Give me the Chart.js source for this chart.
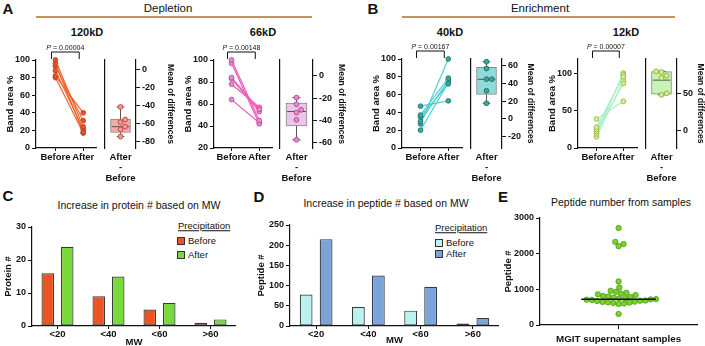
<!DOCTYPE html>
<html lang="en">
<head>
<meta charset="UTF-8" />
<title>Precipitation: band area and peptide counts</title>
<script src="https://cdn.jsdelivr.net/npm/chart.js"></script>
<style>
  body { margin: 0; width: 705px; height: 346px; position: relative; overflow: hidden; background: #fff;
         font-family: 'Liberation Sans', Arial, sans-serif; color: #111; }
  canvas { position: absolute; }
  .t  { position: absolute; transform: translate(-50%, -50%); white-space: nowrap; line-height: 1; }
  .tl { position: absolute; transform: translateY(-50%); white-space: nowrap; line-height: 1; }
  .letter { font-weight: bold; font-size: 15px; }
  .head { font-size: 11.5px; }
  .sub { font-weight: bold; font-size: 11px; }
  .ttl { font-size: 10.5px; }
  .leg { font-size: 9.5px; }
  .rule { position: absolute; height: 2px; background: #C49455; }
  .sw { position: absolute; width: 8px; height: 8px; box-sizing: border-box; border: 1px solid #333; }
</style>
</head>
<body>
  <div class="t letter" style="left:8px;top:8px">A</div>
  <div class="t head" style="left:168px;top:9px">Depletion</div>
  <div class="rule" style="left:36px;top:16px;width:276px"></div>
  <div class="t letter" style="left:373px;top:8px">B</div>
  <div class="t head" style="left:540px;top:9px">Enrichment</div>
  <div class="rule" style="left:402px;top:16px;width:273px"></div>

  <div class="t sub" style="left:87px;top:32px">120kD</div>
  <div class="t sub" style="left:263px;top:32px">66kD</div>
  <div class="t sub" style="left:450px;top:32px">40kD</div>
  <div class="t sub" style="left:626px;top:32px">12kD</div>

  <div class="t letter" style="left:8px;top:195px">C</div>
  <div class="t ttl" style="left:139px;top:205px">Increase in protein # based on MW</div>
  <div class="t letter" style="left:259px;top:196px">D</div>
  <div class="t ttl" style="left:386px;top:203px">Increase in peptide # based on MW</div>
  <div class="t letter" style="left:503px;top:196px">E</div>
  <div class="t ttl" style="left:621px;top:202px">Peptide number from samples</div>

  <div class="tl leg" style="left:178px;top:226px;text-decoration:underline">Precipitation</div>
  <div class="sw" style="left:177px;top:237px;background:#EE5421"></div>
  <div class="tl leg" style="left:188px;top:241px">Before</div>
  <div class="sw" style="left:177px;top:251px;background:#78D93A"></div>
  <div class="tl leg" style="left:188px;top:255px">After</div>

  <div class="tl leg" style="left:435px;top:228px;text-decoration:underline">Precipitation</div>
  <div class="sw" style="left:435px;top:239px;background:#B9F2EE"></div>
  <div class="tl leg" style="left:446px;top:243px">Before</div>
  <div class="sw" style="left:435px;top:250px;background:#7BA4DA"></div>
  <div class="tl leg" style="left:446px;top:254px">After</div>

<script>
const FONT = "'Liberation Sans', Arial, sans-serif";
const INK = '#111';

// ---- A / B : band area % before and after precipitation ----
const pairLabels = ['Before', 'After'];
const diffLabel = ['After', '-', 'Before'];
const pValues = ['0.00004', '0.00148', '0.00167', '0.00007'];

const before120 = [100, 96, 93, 88, 82, 80];
const after120  = [24, 18, 31, 21, 40, 17];
const diff120   = [-41, -55, -58, -63, -66, -74];
const box120    = [-74, -69.5, -63, -54.5, -41];   // min, q1, median, q3, max

const before66 = [100, 97, 84, 83, 78, 64];
const after66  = [45, 42, 55, 53, 57, 43];
const diff66   = [-19.5, -25.5, -30.5, -33, -39.5, -57.5];
const box66    = [-57.5, -45, -32, -24.5, -19.5];

const before40 = [47, 37, 35, 30, 27, 20];
const after40  = [53, 78.5, 72, 76, 100, 73.5];
const diff40   = [64, 56.5, 44.5, 44.5, 31.5, 17.5];
const box40    = [17.5, 27.5, 44.3, 57.8, 64];

const before12 = [39, 28, 25, 22, 19, 15];
const after12  = [63, 96, 99, 87, 101, 91];
const diff12   = [80, 79, 74, 71, 50, 48];
const box12    = [48, 49, 68, 79.5, 80];

// ---- C / D : counts per MW bin ----
const mwCats = ['<20', '<40', '<60', '>60'];
const seriesNames = ['Before', 'After'];
const proteinBefore = [16, 9, 5, 1];
const proteinAfter  = [24, 15, 7, 2];
const peptideBefore = [78, 47, 38, 6];
const peptideAfter  = [215, 125, 97, 20];

// ---- E : peptides per MGIT sample ----
const peptideCounts = [2720, 2330, 2270, 2210, 1220, 1050, 960, 930, 905, 880, 860,
  840, 812, 800, 781, 770, 750, 741, 726, 718, 711, 703,
  688, 680, 672, 655, 646, 637, 628, 615, 603, 590, 310];
const medianPeptide = 722;

Chart.defaults.font.family = FONT;
Chart.defaults.color = INK;

const bold = s => ({ family: FONT, size: s, weight: 'bold', lineHeight: 1.1 });
const axisBorder = { display: true, color: INK, width: 1.2 };
const tickGrid = { display: true, drawOnChartArea: false, drawTicks: true, tickLength: 4, color: INK, tickColor: INK, lineWidth: 1 };
const noPlugins = { legend: { display: false }, tooltip: { enabled: false } };
const plain = v => String(v);

function addCanvas(left, top, w, h) {
  const c = document.createElement('canvas');
  c.width = w; c.height = h;
  c.style.left = left + 'px'; c.style.top = top + 'px';
  c.style.width = w + 'px'; c.style.height = h + 'px';
  document.body.appendChild(c);
  return c;
}

// ticks on multiples of step inside an axis whose ends are not round
const stepTicks = step => s => {
  const t = [];
  for (let v = Math.ceil(s.min / step) * step; v <= s.max + 1e-9; v += step) t.push({ value: Math.round(v) });
  s.ticks = t;
};

// spread points sideways so they do not overlap (pixel space of the chart's own scales)
function swarm(chart, dsIndex, values, r) {
  const xs = chart.scales.x, ys = chart.scales.y;
  const cx = xs.getPixelForValue(0);
  const order = values.map((v, i) => i).sort((a, b) => values[a] - values[b]);
  const placed = [], out = [];
  order.forEach(i => {
    const py = ys.getPixelForValue(values[i]);
    const cands = [0];
    placed.forEach(p => {
      const dy = py - p.y;
      if (Math.abs(dy) < 2 * r) {
        const dx = Math.sqrt(4 * r * r - dy * dy);
        cands.push(p.x + dx, p.x - dx);
      }
    });
    cands.sort((a, b) => Math.abs(a) - Math.abs(b));
    const best = cands.find(c => placed.every(p => (p.x - c) ** 2 + (p.y - py) ** 2 >= 4 * r * r - 0.01));
    placed.push({ x: best, y: py });
    out[i] = { x: xs.getValueForPixel(cx + best), y: values[i] };
  });
  chart.data.datasets[dsIndex].data = out;
  chart.update('none');
}

// bracket + P value above the paired plot
const bracketPlugin = {
  id: 'pbracket',
  afterDraw(chart, args, o) {
    const { ctx, chartArea, scales: { x } } = chart;
    const x1 = x.getPixelForValue(0) - 4, x2 = x.getPixelForValue(1) - 4;
    const yb = chartArea.top - 8;
    ctx.save();
    ctx.strokeStyle = INK; ctx.lineWidth = 1;
    ctx.beginPath();
    ctx.moveTo(x1, yb + 7); ctx.lineTo(x1, yb); ctx.lineTo(x2, yb); ctx.lineTo(x2, yb + 7);
    ctx.stroke();
    ctx.fillStyle = INK; ctx.textBaseline = 'middle';
    ctx.font = 'italic 7px ' + FONT;
    const wP = ctx.measureText('P').width;
    const rest = ' = ' + o.text;
    ctx.font = '7px ' + FONT;
    const wR = ctx.measureText(rest).width;
    const sx = (x1 + x2) / 2 - (wP + wR) / 2;
    ctx.font = 'italic 7px ' + FONT;
    ctx.fillText('P', sx, yb - 4);
    ctx.font = '7px ' + FONT;
    ctx.fillText(rest, sx + wP, yb - 4);
    ctx.restore();
  }
};

const panelData = [
  [before120, after120, diff120, box120],
  [before66, after66, diff66, box66],
  [before40, after40, diff40, box40],
  [before12, after12, diff12, box12]
];

const panelLayout = [
  { axisX: 36, sepX: 101, rightX: 136, beforeX: 57, afterX: 87, top: 60, y: [0, 100, 20], d: [-86.7, 11.1, 20], gap: 34,
    line: '#F2612D', dot: '#E8532A', edge: '#A83A1E', boxFill: '#F5A9A6', boxDot: '#F29A9A', boxEdge: '#C8403A' },
  { axisX: 214, sepX: 277, rightX: 313, beforeX: 233, afterX: 263, top: 60, y: [20, 100, 20], d: [-64.9, 14.4, 20], gap: 28,
    line: '#F25AB8', dot: '#E58CCB', edge: '#B0488E', boxFill: '#EBC6EA', boxDot: '#E58CCB', boxEdge: '#B0488E' },
  { axisX: 402, sepX: 467, rightX: 502, beforeX: 422, afterX: 452, top: 59, y: [0, 100, 20], d: [-32.6, 67.1, 20], gap: 28,
    line: '#4ECFCF', dot: '#3AA6A0', edge: '#1E6E6A', boxFill: '#90DAD8', boxDot: '#3AA6A0', boxEdge: '#1E6E6A' },
  { axisX: 578, sepX: 642, rightX: 677, beforeX: 598, afterX: 627, top: 59, y: [0, 120, 50], d: [-24.5, 96.8, 50], gap: 23,
    line: '#A9F0C8', dot: '#D6F08A', edge: '#8AB03A', boxFill: '#C8F2B6', boxDot: '#D6F08A', boxEdge: '#8AB03A' }
];

const BOTTOM = 148, CTOP = 40, BOX_HALF = 0.57;

panelLayout.forEach((p, k) => {
  const [before, after, diffs, box] = panelData[k];
  const span = p.afterX - p.beforeX;

  // paired before/after plot
  const pairSets = before.map((b, i) => ({
    type: 'scatter', showLine: true, clip: false,
    data: [{ x: 0, y: b }, { x: 1, y: after[i] }],
    borderColor: p.line, borderWidth: 1.2,
    pointRadius: 2.4, pointBackgroundColor: p.dot, pointBorderColor: p.edge, pointBorderWidth: 0.8
  }));
  new Chart(addCanvas(p.axisX - 36, CTOP, 36 + p.sepX - p.axisX, BOTTOM - CTOP + 22), {
    type: 'scatter',
    data: { datasets: pairSets },
    options: {
      responsive: false, animation: false,
      layout: { padding: { top: p.top - CTOP, right: 0, left: 0, bottom: 0 } },
      plugins: { ...noPlugins, pbracket: { text: pValues[k] } },
      scales: {
        x: {
          type: 'linear', min: -(p.beforeX - p.axisX) / span, max: (p.sepX - p.beforeX) / span,
          afterBuildTicks: s => { s.ticks = [{ value: 0 }, { value: 1 }]; },
          afterFit: s => { s.height = 22; },
          ticks: { callback: v => pairLabels[v], font: bold(9.5), color: INK, padding: 1, autoSkip: false, maxRotation: 0 },
          grid: { ...tickGrid, tickLength: 3 }, border: axisBorder
        },
        y: {
          min: p.y[0], max: p.y[1],
          afterBuildTicks: stepTicks(p.y[2]),
          ticks: { font: bold(9), color: INK, padding: 2, callback: plain },
          afterFit: s => { s.width = 36; },
          title: { display: true, text: 'Band area %', font: bold(9.5), color: INK, padding: { top: 5.3, bottom: 0 } },
          grid: tickGrid, border: axisBorder
        }
      }
    },
    plugins: [bracketPlugin]
  });

  // estimation (mean of differences) plot
  const [mn, q1, med, q3, mx] = box;
  const seg = (pts, w) => ({ type: 'scatter', yAxisID: 'y', showLine: true, data: pts, borderColor: '#555', borderWidth: w, pointRadius: 0, clip: false });
  const areaW = p.rightX - p.sepX;
  const boxChart = new Chart(addCanvas(p.sepX - 2, CTOP, 2 + areaW + 42, BOTTOM - CTOP + 38), {
    type: 'scatter',
    data: {
      datasets: [
        { type: 'scatter', yAxisID: 'y', data: diffs.map(v => ({ x: 0, y: v })), clip: false,
          pointRadius: 2.4, pointBackgroundColor: p.boxDot, pointBorderColor: p.boxEdge, pointBorderWidth: 0.9 },
        seg([{ x: -BOX_HALF, y: med }, { x: BOX_HALF, y: med }], 1),
        seg([{ x: 0, y: mn }, { x: 0, y: q1 }], 1),
        seg([{ x: 0, y: q3 }, { x: 0, y: mx }], 1),
        seg([{ x: -0.25, y: mn }, { x: 0.25, y: mn }], 1),
        seg([{ x: -0.25, y: mx }, { x: 0.25, y: mx }], 1),
        { type: 'bar', yAxisID: 'y', data: [{ x: 0, y: [q1, q3] }], barThickness: Math.round(BOX_HALF * areaW),
          backgroundColor: p.boxFill, borderColor: '#888', borderWidth: 1, borderSkipped: false }
      ]
    },
    options: {
      responsive: false, animation: false,
      layout: { padding: { top: p.top - CTOP, right: 0, left: 2, bottom: 0 } },
      plugins: noPlugins,
      scales: {
        y: {
          type: 'linear', position: 'right', min: p.d[0], max: p.d[1],
          afterBuildTicks: stepTicks(p.d[2]),
          ticks: { font: bold(9), color: INK, padding: 2, callback: plain },
          afterFit: s => { s.width = 42; },
          title: { display: true, text: 'Mean of differences', font: bold(8.5), color: INK,
                   padding: { top: 42 - p.gap - 5.1, bottom: 0 } },
          grid: tickGrid, border: axisBorder
        },
        x: {
          type: 'linear', min: -1, max: 1, offset: false,
          afterBuildTicks: s => { s.ticks = [{ value: 0 }]; },
          afterFit: s => { s.height = 38; },
          ticks: { callback: () => diffLabel, font: bold(9.5), color: INK, padding: 4, maxRotation: 0 },
          grid: { display: false, drawTicks: false }, border: { display: false }
        },
        sep: {
          type: 'linear', position: 'left', afterFit: s => { s.width = 0; },
          ticks: { display: false }, grid: { display: false, drawTicks: false }, border: axisBorder
        }
      }
    }
  });
  swarm(boxChart, 0, diffs, 2.7);
});

// ---- C / D ----
function barChart(canvas, before, after, colors, yMax, yStep, yWidth, yTitle, titlePad, mwPad) {
  return new Chart(canvas, {
    type: 'bar',
    data: {
      labels: mwCats,
      datasets: [
        { label: seriesNames[0], data: before, backgroundColor: colors[0], borderColor: '#3a3a3a', borderWidth: 1.2, borderSkipped: false },
        { label: seriesNames[1], data: after, backgroundColor: colors[1], borderColor: '#3a3a3a', borderWidth: 1.2, borderSkipped: false }
      ]
    },
    options: {
      responsive: false, animation: false,
      layout: { padding: { top: 10, right: 0, left: 0, bottom: 0 } },
      plugins: noPlugins,
      datasets: { bar: { categoryPercentage: 0.765, barPercentage: 0.64 } },
      scales: {
        x: {
          afterFit: s => { s.height = 24; },
          ticks: { font: bold(9.5), color: INK, padding: 0 },
          grid: { ...tickGrid, offset: false, tickLength: 3 }, border: axisBorder,
          title: { display: true, text: 'MW', font: bold(9.5), color: INK, padding: { top: 0, bottom: mwPad } }
        },
        y: {
          min: 0, max: yMax,
          ticks: { stepSize: yStep, font: bold(9), color: INK, padding: 2, callback: plain },
          afterFit: s => { s.width = yWidth; },
          title: { display: true, text: yTitle, font: bold(9.5), color: INK, padding: { top: titlePad, bottom: 0 } },
          grid: tickGrid, border: axisBorder
        }
      }
    }
  });
}

barChart(addCanvas(0, 217, 236, 133), proteinBefore, proteinAfter, ['#EE5421', '#78D93A'], 30, 10, 32, 'Protein #', 3.3, 2.3);
barChart(addCanvas(254, 215, 245, 135), peptideBefore, peptideAfter, ['#B9F2EE', '#7BA4DA'], 250, 50, 36, 'Peptide #', 2.3, 4.3);

// ---- E ----
const eChart = new Chart(addCanvas(498, 208, 204, 142), {
  type: 'scatter',
  data: {
    datasets: [
      { showLine: true, data: [{ x: -0.475, y: medianPeptide }, { x: 0.475, y: medianPeptide }],
        borderColor: INK, borderWidth: 1.6, pointRadius: 0 },
      { data: peptideCounts.map(v => ({ x: 0, y: v })), clip: false,
        pointRadius: 2.7, pointBackgroundColor: '#7AD22C', pointBorderColor: '#4E9A1C', pointBorderWidth: 0.8 }
    ]
  },
  options: {
    responsive: false, animation: false,
    layout: { padding: { top: 10, right: 0, left: 0, bottom: 0 } },
    plugins: noPlugins,
    scales: {
      x: {
        type: 'linear', min: -1, max: 1,
        afterBuildTicks: s => { s.ticks = [{ value: 0 }]; },
        afterFit: s => { s.height = 25; },
        ticks: { callback: () => '', padding: 0 },
        grid: { ...tickGrid, tickLength: 4 }, border: axisBorder,
        title: { display: true, text: 'MGIT supernatant samples', font: bold(9.8), color: INK, padding: { top: 0, bottom: 5 } }
      },
      y: {
        min: 0, max: 3000,
        ticks: { stepSize: 1000, font: bold(9), color: INK, padding: 2, callback: plain },
        afterFit: s => { s.width = 42; },
        title: { display: true, text: 'Peptide #', font: bold(9.5), color: INK, padding: { top: 5.3, bottom: 0 } },
        grid: tickGrid, border: axisBorder
      }
    }
  }
});
swarm(eChart, 1, peptideCounts, 2.7);
</script>
</body>
</html>
